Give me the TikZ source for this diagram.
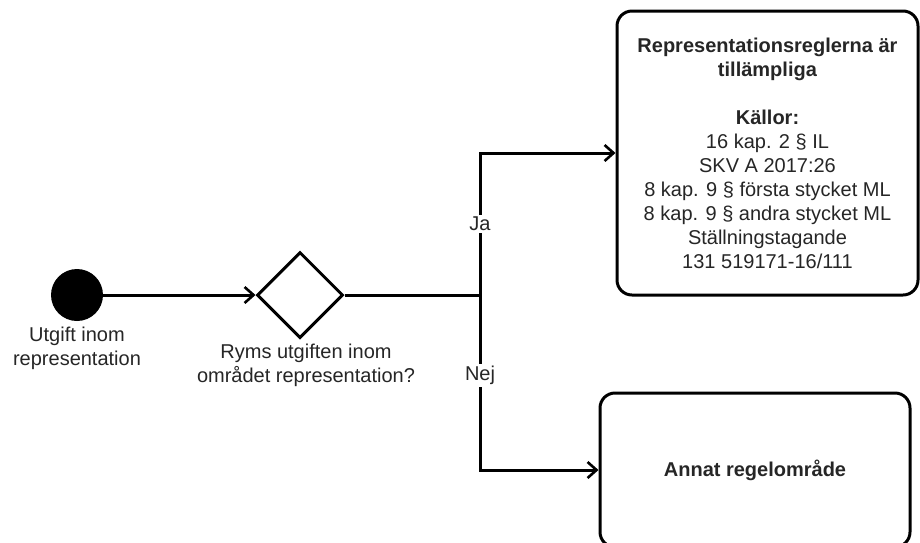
\documentclass[tikz,border=0pt]{standalone}
\usepackage{fontspec}
\setmainfont{Liberation Sans}
\usetikzlibrary{shapes.geometric,arrows.meta}
\begin{document}
\begin{tikzpicture}[x=1pt,y=-1pt,
  every node/.style={font=\fontsize{20}{24}\selectfont, text=black!85},
  line/.style={line width=3pt, draw=black},
  arrowline/.style={line width=3pt, draw=black, -{Straight Barb[length=9pt,width=16pt,line width=2.6pt]}},
  box/.style={draw=black, line width=3pt, rounded corners=15pt, align=center, inner sep=0pt},
  lbl/.style={fill=white, inner sep=2pt, align=center}]
\clip (0,0) rectangle (920,542);
\fill[white] (0,0) rectangle (920,542);
\node[circle, fill=black, minimum size=52pt, inner sep=0pt] (start) at (77,295) {};
\node[align=center] (startlbl) at (77,348) {Utgift inom\\representation};
\node[diamond, draw=black, line width=3pt, minimum size=86pt, inner sep=0pt, aspect=1] (dec) at (300,295) {};
\node[align=center] (declbl) at (306,365) {Ryms utgiften inom\\området representation?};
\node[box, minimum width=301pt, minimum height=284pt] (yes) at (767.5,153)
  {\textbf{Representationsreglerna är}\\\textbf{tillämpliga}\\[24pt]\textbf{Källor:}\\16 kap. 2 § IL\\SKV A 2017:26\\8 kap. 9 § första stycket ML\\8 kap. 9 § andra stycket ML\\Ställningstagande\\131 519171-16/111};
\node[box, minimum width=310pt, minimum height=154pt] (no) at (755,470) {\textbf{Annat regelområde}};
\coordinate (j) at (480,295);
\draw[arrowline] (start) -- (dec);
\draw[line] (dec.east) -- (j);
\draw[arrowline] (j) |- node[lbl, pos=0.25] (ja) {Ja} (yes.west);
\draw[arrowline] (j) |- node[lbl, pos=0.23] (nej) {Nej} (no.west);
\end{tikzpicture}
\end{document}
